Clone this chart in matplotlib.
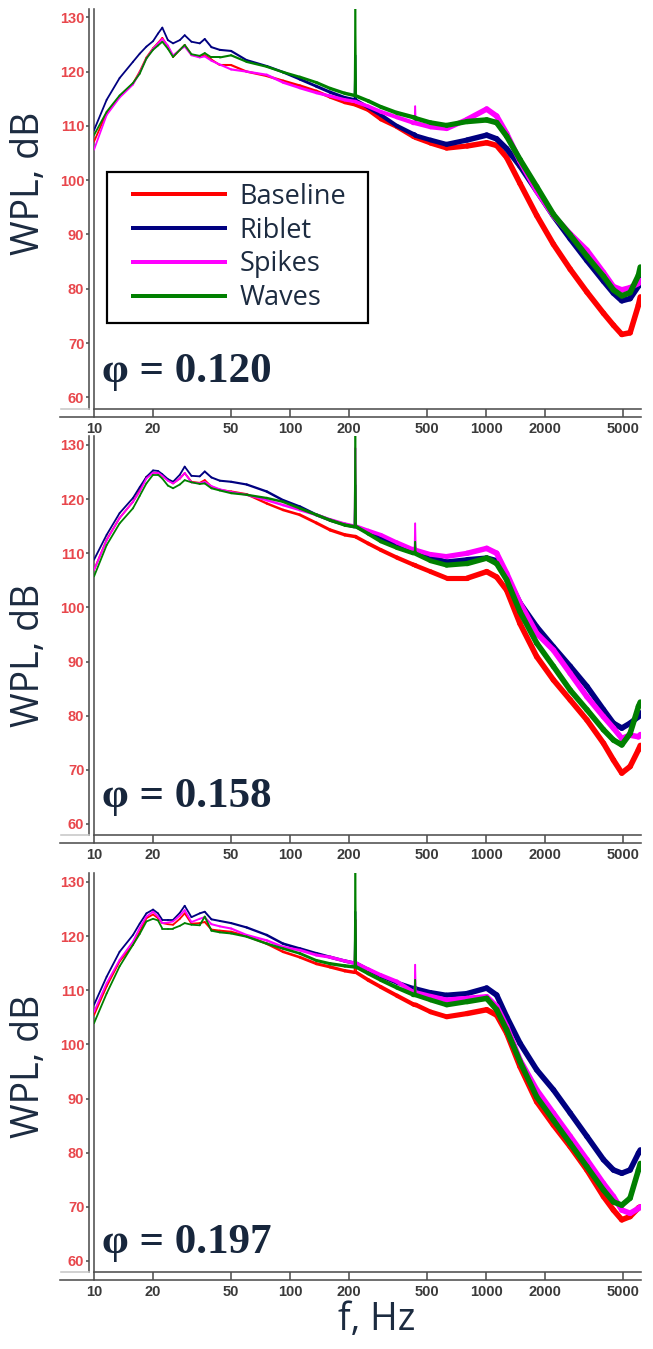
import numpy as np
import matplotlib
matplotlib.use("Agg")
import matplotlib.pyplot as plt
from matplotlib.collections import LineCollection
from matplotlib.lines import Line2D
from matplotlib.patches import Rectangle
from matplotlib.ticker import FixedLocator, FixedFormatter, NullLocator

W, H, DPI = 653, 1349, 100

# Frequency grid, Hz (shared by all panels)
FREQ = [10, 11.6, 13.5, 15.8, 17.1, 18.5, 20.0, 21.2, 22.3, 23.8,
        25.3, 27.4, 29.0, 31.4, 34.6, 36.7, 39.7, 43.8, 50, 60,
        76, 92, 112, 136, 160, 190, 213, 215, 217, 250,
        290, 350, 424, 431, 434, 437, 520, 628, 800, 1005,
        1130, 1270, 1486, 1808, 2200, 2680, 3260, 3960, 4450, 4910,
        5410, 5970, 6100]

# phi = 0.120
BASELINE_120 = [107.1, 112.4, 115.4, 117.8, 120.0, 122.6, 124.3, 125.3, 126.2, 124.6,
                122.7, 124.0, 124.9, 123.1, 122.7, 123.0, 122.2, 121.2, 121.2, 120.0,
                119.2, 118.3, 117.4, 116.4, 115.3, 114.3, 113.9, 113.9, 113.8, 112.9,
                111.2, 109.8, 108.0, 107.9, 107.9, 107.8, 106.8, 105.9, 106.3, 106.9,
                106.4, 104.2, 99.4, 93.5, 88.2, 83.6, 79.4, 75.5, 73.3, 71.6,
                71.9, 77.0, 78.5]
RIBLET_120 = [109.2, 114.8, 118.8, 121.8, 123.3, 124.6, 125.6, 127.0, 128.1, 125.8,
              125.2, 125.8, 126.7, 125.5, 125.2, 126.0, 124.5, 124.0, 123.8, 122.1,
              121.0, 119.9, 118.6, 117.3, 116.2, 115.2, 114.8, 123.0, 114.7, 113.4,
              112.0, 110.0, 108.5, 108.4, 108.3, 108.2, 107.4, 106.6, 107.4, 108.3,
              107.6, 105.8, 102.6, 98.0, 93.4, 89.2, 85.2, 81.4, 79.2, 77.8,
              78.2, 80.5, 82.0]
SPIKES_120 = [105.6, 112.0, 115.2, 117.6, 119.8, 122.4, 124.2, 125.2, 126.0, 124.8,
              123.0, 124.0, 124.6, 123.0, 122.6, 122.8, 122.0, 121.3, 120.4, 120.0,
              119.4, 118.0, 117.0, 116.1, 115.5, 114.8, 114.5, 114.5, 114.4, 113.6,
              112.6, 111.6, 110.6, 110.6, 113.6, 110.5, 109.8, 109.5, 111.2, 113.1,
              111.8, 108.6, 103.5, 98.0, 93.5, 90.1, 87.1, 83.0, 80.4, 79.8,
              80.2, 81.0, 81.5]
WAVES_120 = [108.3, 112.6, 115.6, 117.9, 119.6, 122.4, 124.0, 124.8, 125.5, 124.2,
             122.7, 124.0, 124.9, 123.2, 122.9, 123.4, 122.6, 122.6, 123.0, 121.8,
             120.9, 119.9, 119.0, 118.0, 116.9, 116.0, 115.6, 132.0, 115.5, 114.6,
             113.5, 112.4, 111.6, 111.5, 111.5, 111.4, 110.6, 110.1, 110.8, 111.1,
             110.6, 108.1, 103.8, 98.8, 93.7, 89.9, 86.0, 82.3, 79.8, 78.7,
             79.3, 82.5, 84.0]

# phi = 0.158
BASELINE_158 = [106.9, 112.5, 116.5, 119.5, 121.6, 124.1, 124.9, 124.8, 124.3, 123.5,
                122.9, 123.8, 124.8, 123.2, 123.0, 123.5, 122.3, 121.7, 121.4, 120.9,
                119.2, 118.0, 117.1, 115.6, 114.3, 113.4, 113.1, 113.1, 113.0, 111.8,
                110.6, 109.2, 107.9, 107.8, 107.8, 107.7, 106.6, 105.4, 105.4, 106.6,
                105.6, 103.2, 97.0, 90.9, 86.6, 82.9, 79.2, 74.9, 71.8, 69.4,
                70.6, 73.7, 74.5]
RIBLET_158 = [108.8, 113.4, 117.4, 120.2, 122.2, 124.1, 125.3, 125.2, 124.6, 123.7,
              123.2, 124.5, 126.0, 124.3, 124.2, 125.1, 124.0, 123.4, 123.2, 122.7,
              121.4, 119.8, 118.6, 117.1, 116.1, 115.3, 114.9, 122.6, 114.9, 113.9,
              112.9, 111.4, 110.3, 110.3, 110.3, 110.2, 109.3, 108.4, 108.8, 109.1,
              108.6, 105.7, 100.8, 96.4, 92.7, 89.1, 85.4, 81.1, 78.6, 77.7,
              78.6, 79.8, 80.5]
SPIKES_158 = [106.9, 112.4, 116.5, 119.5, 121.4, 123.8, 124.9, 124.9, 124.3, 123.4,
              122.9, 123.8, 124.8, 123.1, 122.9, 123.2, 122.4, 121.8, 121.3, 120.8,
              119.8, 118.9, 118.0, 117.1, 116.2, 115.4, 115.0, 129.4, 115.0, 114.2,
              113.4, 112.0, 110.7, 110.7, 115.5, 110.6, 109.8, 109.4, 110.0, 110.9,
              110.0, 106.3, 100.8, 95.2, 92.1, 87.8, 83.5, 79.8, 77.7, 75.8,
              76.4, 76.1, 76.5]
WAVES_158 = [105.7, 111.5, 115.5, 118.3, 120.6, 122.9, 124.5, 124.5, 123.8, 122.5,
             122.0, 122.7, 123.5, 123.1, 122.8, 122.9, 122.0, 121.6, 121.1, 120.8,
             120.2, 119.5, 118.3, 117.1, 116.1, 115.2, 114.9, 132.0, 114.9, 113.6,
             112.2, 111.0, 110.0, 110.0, 112.1, 109.9, 108.6, 107.8, 108.1, 109.1,
             108.1, 105.1, 99.2, 93.4, 89.1, 84.7, 81.1, 77.4, 75.5, 74.6,
             76.7, 81.7, 82.5]

# phi = 0.197
BASELINE_197 = [105.4, 110.7, 115.3, 118.4, 120.8, 123.3, 124.0, 123.3, 122.4, 122.2,
                122.1, 123.2, 124.2, 122.3, 122.4, 122.6, 121.2, 121.0, 120.8, 120.0,
                118.6, 117.1, 116.1, 114.9, 114.3, 113.6, 113.3, 123.0, 113.3, 111.9,
                110.6, 109.0, 107.4, 107.3, 107.3, 107.3, 106.0, 105.1, 105.7, 106.4,
                105.4, 102.1, 95.9, 89.4, 85.1, 81.1, 76.8, 71.9, 69.4, 67.6,
                68.2, 69.8, 70.0]
RIBLET_197 = [107.3, 112.5, 117.1, 120.2, 122.3, 124.2, 124.9, 124.2, 123.0, 123.0,
              123.0, 124.3, 125.6, 123.5, 124.2, 124.5, 123.1, 122.8, 122.4, 121.6,
              120.2, 118.6, 117.7, 116.8, 116.1, 115.4, 115.0, 124.5, 115.0, 113.8,
              112.6, 111.4, 110.4, 110.4, 110.4, 110.3, 109.6, 109.1, 109.4, 110.4,
              109.1, 105.1, 100.2, 95.3, 91.6, 87.3, 83.0, 78.7, 76.8, 76.2,
              76.8, 79.9, 80.5]
SPIKES_197 = [106.0, 111.3, 115.6, 119.0, 121.5, 123.6, 124.5, 123.6, 122.4, 122.5,
              122.7, 123.8, 124.8, 122.6, 123.2, 123.5, 122.2, 121.8, 121.4, 120.2,
              119.2, 118.0, 117.4, 116.5, 116.1, 115.4, 115.0, 115.0, 115.0, 113.9,
              112.8, 111.6, 109.7, 109.7, 114.7, 109.6, 108.9, 108.2, 108.5, 108.8,
              107.0, 103.3, 97.1, 91.6, 87.3, 83.0, 78.7, 74.3, 71.9, 69.4,
              68.8, 69.7, 70.0]
WAVES_197 = [103.9, 109.4, 114.4, 118.4, 120.4, 122.7, 123.2, 122.9, 121.4, 121.4,
             121.4, 121.9, 122.4, 122.1, 122.0, 123.6, 121.0, 120.7, 120.5, 119.9,
             118.6, 117.7, 116.8, 115.5, 114.9, 114.5, 114.3, 132.0, 114.3, 113.1,
             111.9, 110.5, 109.2, 109.2, 111.9, 109.1, 108.2, 107.3, 107.9, 108.5,
             106.4, 102.7, 96.8, 90.3, 86.0, 81.7, 77.4, 73.1, 70.9, 70.3,
             71.6, 76.8, 78.0]

SERIES = ["Baseline", "Riblet", "Spikes", "Waves"]
COLORS = ["#ff0000", "#000080", "#ff00ff", "#008000"]
PHI = ["0.120", "0.158", "0.197"]
PANELS = [
    [BASELINE_120, RIBLET_120, SPIKES_120, WAVES_120],
    [BASELINE_158, RIBLET_158, SPIKES_158, WAVES_158],
    [BASELINE_197, RIBLET_197, SPIKES_197, WAVES_197],
]
XTICKS = [10, 20, 50, 100, 200, 500, 1000, 2000, 5000]
XTICKLABELS = ["10", "20", "50", "100", "200", "500", "1000", "2000", "5000"]
YTICKS = [60, 70, 80, 90, 100, 110, 120, 130]

PX = 72.0 / DPI  # points per pixel
TEXT_DARK = "#1c2b40"
AXIS_GREY = "#505050"
TICK_FONT = ["Liberation Sans Narrow", "Liberation Sans", "DejaVu Sans"]

# axes boxes in pixels: left, top, width, height
BOXES = [(94, 8.6, 547, 400.2), (94, 436.3, 547, 399.0), (94, 873.3, 547, 399.0)]
YLIM = (57.9, 131.6)
XLIM = (10, 6150)


def fig_rect(left, top, width, height):
    return [left / W, 1 - (top + height) / H, width / W, height / H]


def spectrum(ax, freq, level, color, z):
    """Spectrum line whose stroke widens towards high frequency, where the
    measured spectra form a noisy band; tonal peaks stay thin."""
    f = np.asarray(freq, float)
    v = np.asarray(level, float)
    pts = np.column_stack([f, v])
    segs = np.stack([pts[:-1], pts[1:]], axis=1)
    fmid = np.log10(np.sqrt(f[:-1] * f[1:]))
    widths_px = np.interp(fmid, [1.5, 2.0, 2.5, 3.0], [1.8, 2.6, 4.0, 5.6])
    # tonal peaks: points standing well above both neighbours
    peak = np.zeros(len(v), bool)
    peak[1:-1] = (v[1:-1] - np.maximum(v[:-2], v[2:])) > 2.0
    thin = peak[:-1] | peak[1:]
    widths_px[thin] = 1.8
    lc = LineCollection(segs, colors=color, linewidths=widths_px * PX,
                        capstyle="round", joinstyle="round", zorder=z)
    ax.add_collection(lc)


fig = plt.figure(figsize=(W / DPI, H / DPI), dpi=DPI)
fig.patch.set_facecolor("white")

axes = []
for i, (box, data) in enumerate(zip(BOXES, PANELS)):
    ax = fig.add_axes(fig_rect(*box))
    axes.append(ax)
    ax.set_xscale("log")
    ax.set_xlim(*XLIM)
    ax.set_ylim(*YLIM)
    for k, (vals, col) in enumerate(zip(data, COLORS)):
        spectrum(ax, FREQ, vals, col, 2 + k)

    for s in ("top", "right"):
        ax.spines[s].set_visible(False)
    ax.spines["left"].set_position(("outward", 5 * PX))
    ax.spines["bottom"].set_position(("outward", 8 * PX))
    for s in ("left", "bottom"):
        ax.spines[s].set_color(AXIS_GREY)
        ax.spines[s].set_linewidth(1.6 * PX)
    # inner frame lines
    ax.axvline(XLIM[0], color=AXIS_GREY, lw=1.6 * PX, clip_on=False, zorder=1)
    ax.axhline(YLIM[0], color=AXIS_GREY, lw=1.6 * PX, clip_on=False, zorder=1)

    ax.xaxis.set_major_locator(FixedLocator(XTICKS))
    ax.xaxis.set_major_formatter(FixedFormatter(XTICKLABELS))
    ax.xaxis.set_minor_locator(NullLocator())
    ax.set_yticks(YTICKS)
    ax.yaxis.set_minor_locator(NullLocator())
    ax.tick_params(axis="x", direction="in", length=8 * PX, width=1.6 * PX,
                   color=AXIS_GREY, pad=3.5, labelsize=10.5, labelcolor="#3a3a3a")
    ax.tick_params(axis="y", direction="out", length=3 * PX, width=1.6 * PX,
                   color=AXIS_GREY, pad=1.2, labelsize=10.5, labelcolor="#e8474c")
    for lab in ax.get_xticklabels() + ax.get_yticklabels():
        lab.set_fontfamily(TICK_FONT)
        lab.set_fontweight("bold")

    left, top, width, height = box
    bottom_px = top + height
    # outer axis line continues to the left of the panel
    fig.add_artist(Line2D([60 / W, left / W], [1 - (bottom_px + 8) / H] * 2,
                          transform=fig.transFigure, color=AXIS_GREY, lw=1.6 * PX))
    fig.add_artist(Line2D([61 / W, (left - 5) / W], [1 - bottom_px / H] * 2,
                          transform=fig.transFigure, color="#c8c8c8", lw=1.6 * PX))

    # panel label
    baseline_px = [382, 807, 1253][i]
    fig.text(102 / W, 1 - baseline_px / H, "\u03c6 = " + PHI[i],
             fontfamily=["Liberation Serif", "DejaVu Serif"], fontweight="bold",
             fontsize=31, color="#17263c", va="baseline", ha="left")

    # y axis title
    yc = [183, 655, 1066][i]
    fig.text(29 / W, 1 - yc / H, "WPL, dB", rotation=90, ha="center", va="center",
             fontfamily=["Open Sans", "DejaVu Sans"], fontsize=27, color=TEXT_DARK)

# legend in the first panel
ax0 = axes[0]
handles = [Line2D([], [], color=c, lw=4 * PX) for c in COLORS]
l0, t0, w0, h0 = BOXES[0]
leg = ax0.legend(handles, SERIES, loc="center left",
                 bbox_to_anchor=((133 - l0) / w0, 1 - (247.5 - t0) / h0),
                 frameon=False, borderpad=0, borderaxespad=0,
                 handlelength=3.4, handletextpad=0.52, labelspacing=0.22,
                 prop={"family": ["Open Sans", "DejaVu Sans"], "size": 19.5},
                 labelcolor=TEXT_DARK)
for ln in leg.get_lines():
    ln.set_linewidth(4 * PX)
fig.add_artist(Rectangle((107 / W, 1 - 323 / H), 261 / W, 151 / H,
                         transform=fig.transFigure, fill=False,
                         edgecolor="black", lw=2.2 * PX))

fig.text(377 / W, 1 - 1320 / H, "f, Hz", ha="center", va="center",
         fontfamily=["Open Sans", "DejaVu Sans"], fontsize=27, color=TEXT_DARK)

fig.savefig("out.png", dpi=DPI, facecolor="white")
